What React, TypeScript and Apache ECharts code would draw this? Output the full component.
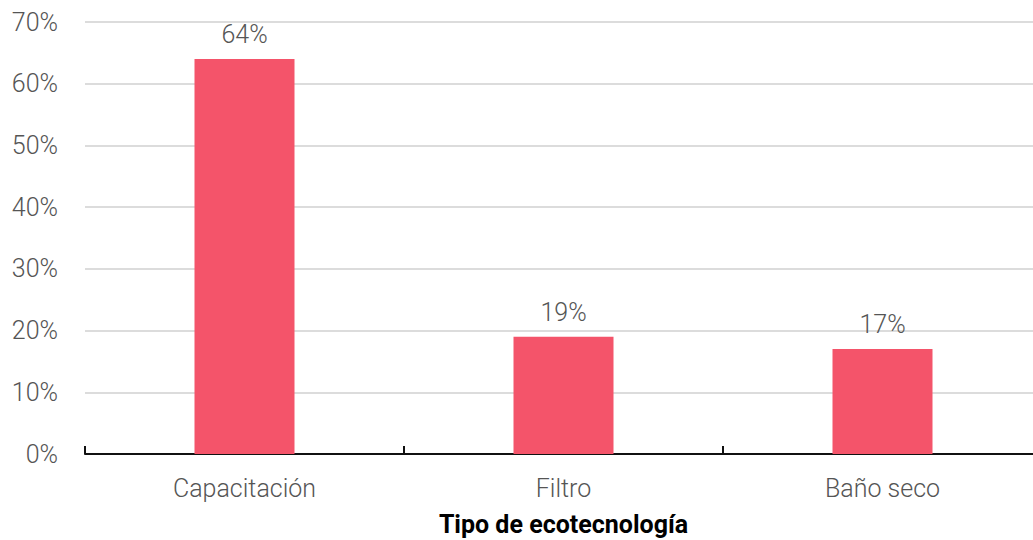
import React, { useEffect, useRef } from "react";
import * as echarts from "echarts";

const categories = ["Capacitación", "Filtro", "Baño seco"];
const shares = [64, 19, 17];
const yTicks = [0, 10, 20, 30, 40, 50, 60, 70];

export default function App() {
  const ref = useRef<HTMLDivElement>(null);

  useEffect(() => {
    if (!ref.current) return;
    const chart = echarts.init(ref.current, null, { renderer: "svg" });
    const font = "Roboto, 'Noto Sans', sans-serif";
    chart.setOption({
      animation: false,
      grid: {
        left: 85,
        right: -9,
        top: 22,
        bottom: 86,
        containLabel: false,
        outerBoundsMode: "none",
      },
      xAxis: {
        type: "category",
        data: categories,
        name: "Tipo de ecotecnología",
        nameLocation: "middle",
        nameGap: 58,
        nameTextStyle: { color: "#000", fontWeight: "bold", fontSize: 25, fontFamily: font },
        axisLine: { lineStyle: { color: "#111", width: 2 } },
        axisTick: { show: true, inside: true, length: 8, alignWithLabel: false, lineStyle: { color: "#111", width: 2 } },
        axisLabel: { color: "#555", fontSize: 25, fontWeight: 300, margin: 22, fontFamily: font },
      },
      yAxis: {
        type: "value",
        min: yTicks[0],
        max: yTicks[yTicks.length - 1],
        interval: 10,
        axisLine: { show: false },
        axisTick: { show: false },
        axisLabel: {
          color: "#555",
          fontSize: 25,
          fontWeight: 300,
          margin: 27,
          fontFamily: font,
          formatter: (v: number) => `${v}%`,
        },
        splitLine: { lineStyle: { color: "#dcdcdc", width: 2 } },
      },
      series: [
        {
          type: "bar",
          data: shares,
          barWidth: 100,
          itemStyle: { color: "#F4546A" },
          label: {
            show: true,
            position: "top",
            distance: 12,
            color: "#555",
            fontSize: 25,
            fontWeight: 300,
            fontFamily: font,
            formatter: (p: any) => `${p.value}%`,
          },
        },
      ],
    });
    return () => chart.dispose();
  }, []);

  return <div ref={ref} style={{ width: 1033, height: 540, position: "absolute", left: 0, top: 0 }} />;
}
